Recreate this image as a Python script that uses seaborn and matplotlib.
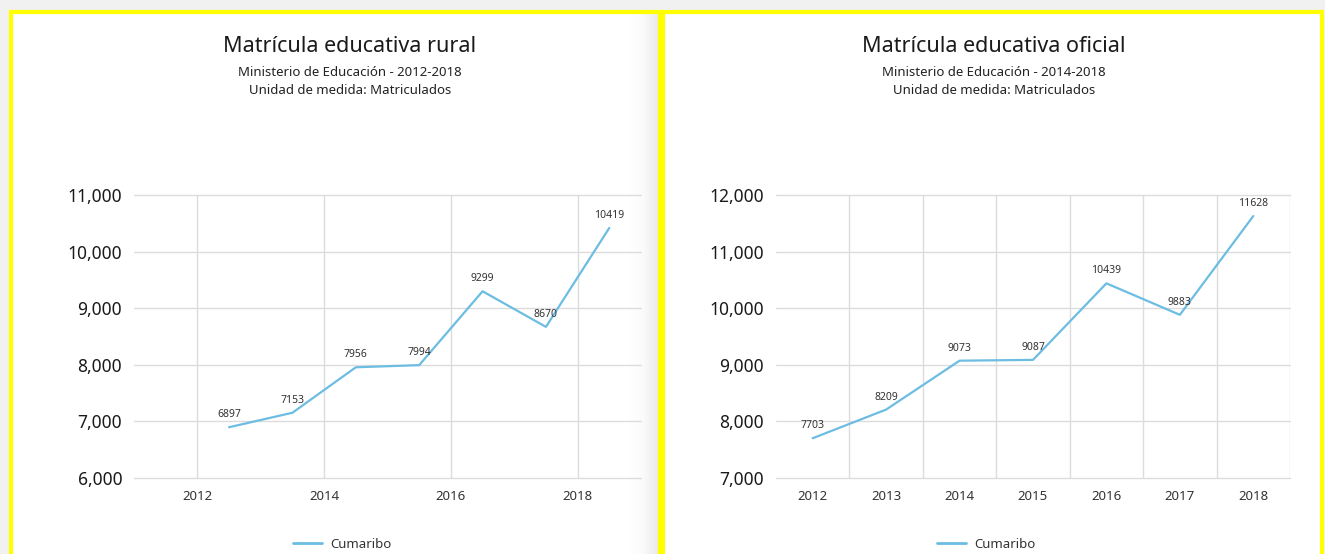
import numpy as np
import pandas as pd
import seaborn as sns
import matplotlib.pyplot as plt
from matplotlib.patches import Rectangle
from matplotlib.lines import Line2D
from matplotlib.ticker import FuncFormatter
from matplotlib.colors import LinearSegmentedColormap

# data
years_rural = [2012, 2013, 2014, 2015, 2016, 2017, 2018]
matricula_rural = [6897, 7153, 7956, 7994, 9299, 8670, 10419]
years_oficial = ["2012", "2013", "2014", "2015", "2016", "2017", "2018"]
matricula_oficial = [7703, 8209, 9073, 9087, 10439, 9883, 11628]
serie = "Cumaribo"

LINE = "#6dbde2"
GRID = "#dcdcdc"
W, H = 1325, 554

sns.set_theme(style="white")
plt.rcParams['font.family'] = ['Noto Sans', 'DejaVu Sans']

fig = plt.figure(figsize=(W / 100, H / 100), dpi=100)
fig.patch.set_facecolor("#f1f1f1")


def box(x0, y0, x1, y1):
    # pixel box (top-left origin) -> figure fraction
    return [x0 / W, 1 - y1 / H, (x1 - x0) / W, (y1 - y0) / H]


# Step 1: panel backgrounds and yellow frames
for x0, x1 in [(11, 660), (663, 1322)]:
    fig.add_artist(Rectangle((x0 / W, -0.1), (x1 - x0) / W, 1.1 - 12 / H,
                             transform=fig.transFigure, facecolor="white",
                             edgecolor="none", zorder=-3))
# soft shadow on the right side of the left card
sh = fig.add_axes(box(628, 14, 659, 554), zorder=-2)
shade = LinearSegmentedColormap.from_list("shade", ["#ffffff", "#fbfbfb", "#e9e9e9"])
sh.imshow(np.linspace(0, 1, 64).reshape(1, -1), aspect="auto", cmap=shade,
          extent=[0, 1, 0, 1], vmin=0, vmax=1)
sh.axis("off")
for x0, x1 in [(11, 660), (663, 1322)]:
    fig.add_artist(Rectangle((x0 / W, -0.1), (x1 - x0) / W, 1.1 - 12 / H,
                             transform=fig.transFigure, facecolor="none",
                             edgecolor="#ffff00", linewidth=3.0, zorder=5))


def style_axis(ax, ymin, ymax):
    ax.set_facecolor("none")
    for s in ax.spines.values():
        s.set_visible(False)
    ax.set_ylim(ymin, ymax)
    ax.set_yticks(range(ymin, ymax + 1, 1000))
    ax.yaxis.set_major_formatter(FuncFormatter(lambda v, p: f"{int(v):,}"))
    ax.grid(axis="y", color=GRID, linewidth=1.0)
    for gl in ax.get_ygridlines():
        gl.set_clip_on(False)
    ax.tick_params(axis="y", length=0, pad=8.5, labelsize=12.5, labelcolor="#1a1a1a")
    ax.tick_params(axis="x", length=0, pad=9, labelsize=9.5, labelcolor="#333333")
    ax.set_xlabel("")
    ax.set_ylabel("")


def label_points(ax, xs, ys):
    for x, y in zip(xs, ys):
        ax.annotate(str(y), (x, y), xytext=(0, 5), textcoords="offset points",
                    ha="center", va="bottom", fontsize=7.5, color="#333333")


# Step 2: left chart (date axis, points at mid-year)
axL = fig.add_axes(box(134, 195, 641, 478))
df_rural = pd.DataFrame({"year": np.array(years_rural) + 0.5, "matricula": matricula_rural})
sns.lineplot(data=df_rural, x="year", y="matricula", ax=axL, color=LINE,
             linewidth=1.6, legend=False)
axL.set_xlim(2011, 2019)
axL.set_xticks([2012, 2014, 2016, 2018])
axL.set_xticklabels(["2012", "2014", "2016", "2018"])
axL.grid(axis="x", color=GRID, linewidth=1.0)
style_axis(axL, 6000, 11000)
label_points(axL, df_rural["year"], matricula_rural)

# Step 3: right chart (category axis)
axR = fig.add_axes(box(776, 195, 1290, 478))
df_ofi = pd.DataFrame({"year": years_oficial, "matricula": matricula_oficial})
sns.lineplot(data=df_ofi, x="year", y="matricula", ax=axR, color=LINE,
             linewidth=1.6, legend=False)
axR.set_xlim(-0.5, len(years_oficial) - 0.5)
axR.set_xticks(np.arange(0.5, len(years_oficial)), minor=True)
axR.grid(axis="x", which="minor", color=GRID, linewidth=1.0)
axR.grid(axis="x", which="major", visible=False)
axR.tick_params(axis="x", which="minor", length=0)
for gl in axR.xaxis.get_minorticklines():
    gl.set_visible(False)
style_axis(axR, 7000, 12000)
label_points(axR, range(len(years_oficial)), matricula_oficial)

# Step 4: titles and legends
titles = [
    (350, "Matrícula educativa rural", "Ministerio de Educación - 2012-2018"),
    (994, "Matrícula educativa oficial", "Ministerio de Educación - 2014-2018"),
]
for cx, t, sub in titles:
    fig.text(cx / W, 1 - 46 / H, t, ha="center", va="center", fontsize=15.5, color="#1a1a1a")
    fig.text(cx / W, 1 - 72 / H, sub, ha="center", va="center", fontsize=9.5, color="#222222")
    fig.text(cx / W, 1 - 90 / H, "Unidad de medida: Matriculados", ha="center",
             va="center", fontsize=9.5, color="#222222")

for ax, cx in [(axL, 342), (axR, 986)]:
    ax.legend(handles=[Line2D([], [], color=LINE, linewidth=2)], labels=[serie],
              loc="center", bbox_to_anchor=(cx / W, 1 - 544 / H),
              bbox_transform=fig.transFigure, frameon=False, fontsize=9.5,
              handlelength=2.2, handletextpad=0.6, labelcolor="#333333")

fig.savefig("out.png", dpi=100, facecolor=fig.get_facecolor())
